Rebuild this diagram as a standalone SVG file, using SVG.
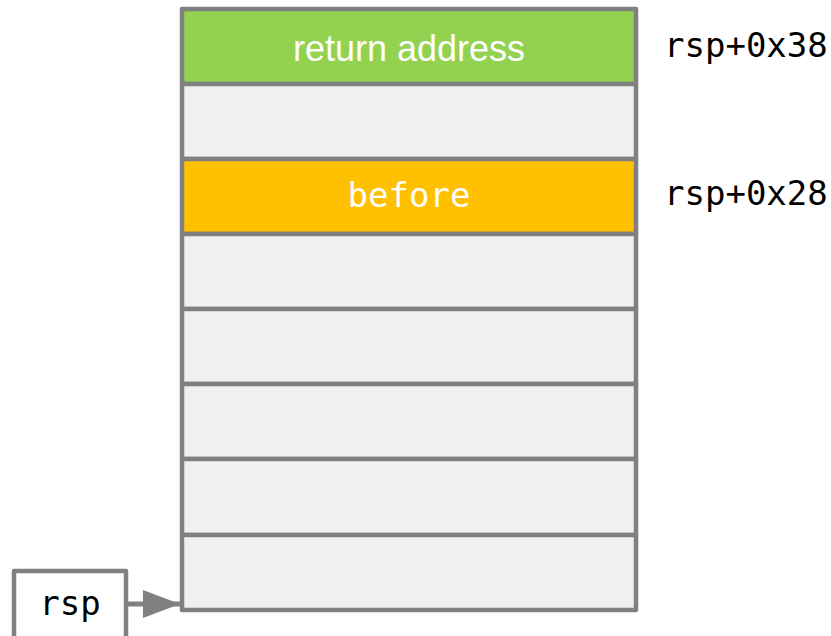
<svg xmlns="http://www.w3.org/2000/svg" width="831" height="636" viewBox="0 0 831 636">
<style>
.cell{stroke:#808080;stroke-width:4.5;stroke-linejoin:round}
.empty{fill:#f0f0f0}
.mono{font-family:"DejaVu Sans Mono","Liberation Mono",monospace;font-size:34px}
.sans{font-family:"Liberation Sans",Arial,sans-serif;font-size:36px}
</style>
<defs>
<marker id="ah" markerWidth="40" markerHeight="30" refX="37" refY="14" orient="auto" markerUnits="userSpaceOnUse">
<path d="M0,0 L37,14 L0,28 Z" fill="#808080"/>
</marker>
</defs>
<rect width="831" height="636" fill="#fff"/>
<g id="cell-0"><rect class="cell" x="182" y="9" width="454" height="75" fill="#93d150"/><text class="sans" x="409" y="61" text-anchor="middle" fill="#fff">return address</text></g>
<g id="cell-1"><rect class="cell empty" x="182" y="84" width="454" height="75"/></g>
<g id="cell-2"><rect class="cell" x="182" y="159" width="454" height="75" fill="#ffc000"/><text class="mono" x="409" y="207" text-anchor="middle" fill="#fff">before</text></g>
<g id="cell-3"><rect class="cell empty" x="182" y="234" width="454" height="75"/></g>
<g id="cell-4"><rect class="cell empty" x="182" y="309" width="454" height="75"/></g>
<g id="cell-5"><rect class="cell empty" x="182" y="384" width="454" height="75"/></g>
<g id="cell-6"><rect class="cell empty" x="182" y="459" width="454" height="76"/></g>
<g id="cell-7"><rect class="cell empty" x="182" y="535" width="454" height="75"/></g>
<g id="label-38"><text class="mono" x="664" y="57" fill="#000">rsp+0x38</text></g>
<g id="label-28"><text class="mono" x="664" y="205" fill="#000">rsp+0x28</text></g>
<g id="rsp"><rect class="cell" x="14" y="571" width="112" height="70" fill="#fff" stroke-width="5"/><text class="mono" x="70" y="615" text-anchor="middle" fill="#000">rsp</text></g>
<g id="connectors"><line x1="127" y1="604" x2="180" y2="604" stroke="#808080" stroke-width="5" marker-end="url(#ah)"/></g>
</svg>
